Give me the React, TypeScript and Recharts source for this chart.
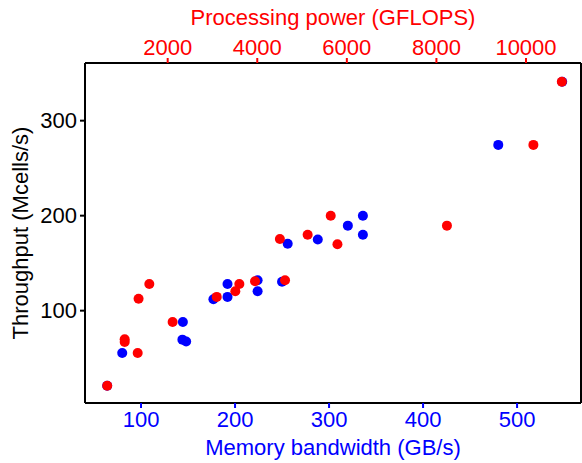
import React from 'react';
import { ScatterChart, Scatter, XAxis, YAxis } from 'recharts';

// memory bandwidth (GB/s) vs throughput, blue
const blueBandwidth = [64, 80, 148, 144, 144.5, 177, 192, 192, 224, 224, 250, 256, 288, 320, 336, 336, 480, 548];
const blueThroughput = [21, 55.5, 67.5, 69.5, 88, 112, 114.5, 128, 120.5, 132, 130.5, 170.5, 175, 189.5, 200, 180, 274.5, 341];

// processing power (GFLOPS) vs throughput, red
const redGflops = [650, 1330, 1040, 1040, 2110, 1350, 3095, 1590, 3510, 3600, 3950, 4620, 4505, 5125, 5640, 5790, 8235, 10165, 10800];
const redThroughput = [21, 55.5, 67, 70, 88, 112.5, 114.5, 128, 120.5, 128, 131, 132, 175.5, 180, 200, 170, 189.5, 274.5, 341];

const bandwidthTicks = [100, 200, 300, 400, 500];
const gflopsTicks = [2000, 4000, 6000, 8000, 10000];
const throughputTicks = [100, 200, 300];

const BLUE = '#0000ff';
const RED = '#ff0000';
const FONT = '"Liberation Sans", Arial, sans-serif';

const blueData = blueBandwidth.map((bw, i) => ({ bw, tp: blueThroughput[i] }));
const redData = redGflops.map((gf, i) => ({ gf, tp: redThroughput[i] }));

const dot = (color: string) => (props: any) => (
  <circle cx={props.cx} cy={props.cy} r={5} fill={color} />
);

export default function App() {
  return (
    <div style={{ position: 'absolute', left: 0, top: 0, fontFamily: FONT }}>
      <ScatterChart width={582} height={463} margin={{ top: 0, right: 0, bottom: 0, left: 0 }}>
        <XAxis
          xAxisId="bottom"
          type="number"
          dataKey="bw"
          orientation="bottom"
          domain={[40.4, 568]}
          ticks={bandwidthTicks}
          allowDataOverflow
          height={60}
          tickSize={5}
          tickMargin={3}
          axisLine={{ stroke: '#000', strokeWidth: 2 }}
          tickLine={{ stroke: BLUE, strokeWidth: 2 }}
          tick={{ fill: BLUE, fontSize: 22, fontFamily: FONT }}
          label={{ value: 'Memory bandwidth (GB/s)', position: 'insideBottom', offset: 8, fill: BLUE, fontSize: 22, fontFamily: FONT }}
        />
        <XAxis
          xAxisId="top"
          type="number"
          dataKey="gf"
          orientation="top"
          domain={[154, 11228]}
          ticks={gflopsTicks}
          allowDataOverflow
          height={63}
          tickSize={5}
          tickMargin={3}
          axisLine={{ stroke: '#000', strokeWidth: 2 }}
          tickLine={{ stroke: RED, strokeWidth: 2 }}
          tick={{ fill: RED, fontSize: 22, fontFamily: FONT }}
          label={{ value: 'Processing power (GFLOPS)', position: 'insideTop', offset: 9, fill: RED, fontSize: 22, fontFamily: FONT }}
        />
        <YAxis
          yAxisId="tp"
          type="number"
          dataKey="tp"
          domain={[2.8, 360.7]}
          ticks={throughputTicks}
          allowDataOverflow
          width={85}
          tickSize={5}
          tickMargin={3}
          axisLine={{ stroke: '#000', strokeWidth: 2 }}
          tickLine={{ stroke: '#000', strokeWidth: 2 }}
          tick={{ fill: '#000', fontSize: 22, fontFamily: FONT }}
          label={{ value: 'Throughput (Mcells/s)', angle: -90, position: 'insideLeft', offset: 20, fill: '#000', fontSize: 22, fontFamily: FONT, style: { textAnchor: 'middle' } }}
        />
        <YAxis
          yAxisId="frame"
          orientation="right"
          type="number"
          domain={[0, 1]}
          width={1}
          tick={false}
          tickLine={false}
          axisLine={{ stroke: '#000', strokeWidth: 2 }}
        />
        <Scatter
          data={blueData}
          xAxisId="bottom"
          yAxisId="tp"
          fill={BLUE}
          shape={dot(BLUE)}
          isAnimationActive={false}
        />
        <Scatter
          data={redData}
          xAxisId="top"
          yAxisId="tp"
          fill={RED}
          shape={dot(RED)}
          isAnimationActive={false}
        />
      </ScatterChart>
    </div>
  );
}
